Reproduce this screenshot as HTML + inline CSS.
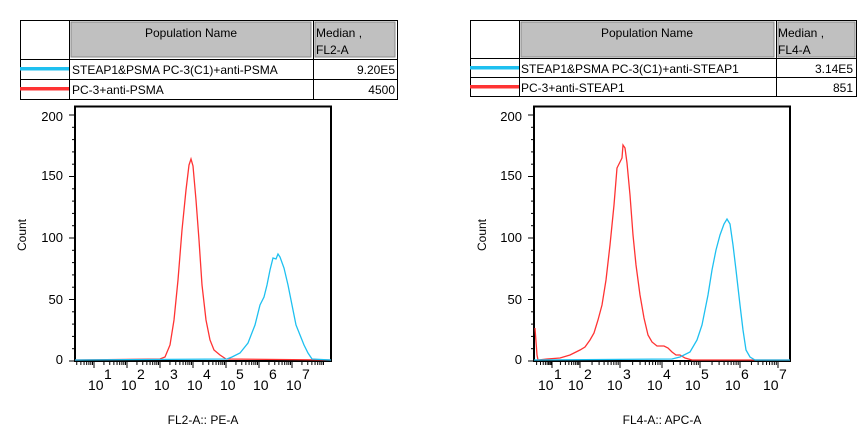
<!DOCTYPE html>
<html><head><meta charset="utf-8"><style>
body{margin:0;background:#fff;width:867px;height:443px;overflow:hidden}
svg{display:block;font-family:"Liberation Sans",Arial,sans-serif}
</style></head><body>
<svg id="s" width="867" height="443" viewBox="0 0 867 443">
<g font-size="12" fill="#000">
<rect x="20.5" y="20.5" width="377" height="79" fill="#fff" stroke="#000"/>
<rect x="71" y="22" width="240" height="35" fill="#c0c0c0" stroke="#888" stroke-width="1"/>
<rect x="315" y="22" width="80" height="35" fill="#c0c0c0" stroke="#888" stroke-width="1"/>
<line x1="69.5" y1="20" x2="69.5" y2="100" stroke="#000"/>
<line x1="313.5" y1="20" x2="313.5" y2="100" stroke="#000"/>
<line x1="20" y1="59.5" x2="398" y2="59.5" stroke="#000"/>
<line x1="20" y1="79.5" x2="398" y2="79.5" stroke="#000"/>
<text x="191" y="37" text-anchor="middle">Population Name</text>
<text x="316" y="37">Median ,</text><text x="316" y="54">FL2-A</text>
<text x="72" y="74">STEAP1&amp;PSMA PC-3(C1)+anti-PSMA</text><text x="395" y="74" text-anchor="end">9.20E5</text>
<text x="72" y="94">PC-3+anti-PSMA</text><text x="395" y="94" text-anchor="end">4500</text>
<rect x="20" y="67" width="49" height="3.5" fill="#1ec0f0"/>
<rect x="20" y="87" width="49" height="3.5" fill="#f33"/>
</g>
<g font-size="12" fill="#000">
<rect x="470.5" y="20.5" width="386" height="76" fill="#fff" stroke="#000"/>
<rect x="521" y="22" width="253" height="35" fill="#c0c0c0" stroke="#888"/>
<rect x="778" y="22" width="77" height="35" fill="#c0c0c0" stroke="#888"/>
<line x1="519.5" y1="20" x2="519.5" y2="97" stroke="#000"/>
<line x1="776.5" y1="20" x2="776.5" y2="97" stroke="#000"/>
<line x1="470" y1="58.5" x2="857" y2="58.5" stroke="#000"/>
<line x1="470" y1="77.5" x2="857" y2="77.5" stroke="#000"/>
<text x="647" y="37" text-anchor="middle">Population Name</text>
<text x="778" y="37">Median ,</text><text x="778" y="54">FL4-A</text>
<text x="521" y="73">STEAP1&amp;PSMA PC-3(C1)+anti-STEAP1</text><text x="853" y="73" text-anchor="end">3.14E5</text>
<text x="521" y="92">PC-3+anti-STEAP1</text><text x="853" y="92" text-anchor="end">851</text>
<rect x="470" y="66" width="49" height="3.5" fill="#1ec0f0"/>
<rect x="470" y="85" width="49" height="3.5" fill="#f33"/>
</g>
<rect x="75" y="106.5" width="256" height="254.5" fill="none" stroke="#000" stroke-width="2"/>
<polyline fill="none" stroke="#f33" stroke-width="1.3" points="75,360 160,359 165,357 170,345 174,320 178,280 182,230 186,190 189,165 191,159 193,166 196,200 199,240 202,285 206,320 210,340 214,350 220,355 226,359 331,360"/>
<polyline fill="none" stroke="#1ec0f0" stroke-width="1.3" points="75,360 227,359 232,357 240,353 248,343 255,325 260,305 264,297 267,285 270,270 273,258 276,259 278,254 280,257 284,268 288,285 292,305 296,325 300,335 304,345 308,353 312,359 331,360"/>
<g font-size="13" text-anchor="end"><text x="63" y="121">200</text><text x="63" y="180">150</text><text x="63" y="242">100</text><text x="63" y="304">50</text><text x="63" y="364">0</text></g>
<text transform="translate(26,235) rotate(-90)" font-size="12" text-anchor="middle">Count</text>
<text x="203" y="424" font-size="12" text-anchor="middle">FL2-A:: PE-A</text>
<rect x="534" y="106.5" width="256" height="254.5" fill="none" stroke="#000" stroke-width="2"/>
<polyline fill="none" stroke="#f33" stroke-width="1.3" points="535,328 537,355 538,360 547,359 560,358 570,355 580,350 585,347 590,340 594,333 598,320 602,305 606,280 610,245 614,205 617,168 620,162 622,158 623,145 625,148 627,163 630,195 633,235 636,265 640,295 644,318 648,335 652,342 657,346 664,346 668,348 672,352 676,355 680,355 685,358 692,360 790,360"/>
<polyline fill="none" stroke="#1ec0f0" stroke-width="1.3" points="534,360 672,359 680,357 690,352 697,340 702,325 705,310 708,295 712,270 716,250 720,235 724,224 727,219 730,224 733,245 736,270 740,305 743,330 746,350 750,357 755,360 790,360"/>
<g font-size="13" text-anchor="end"><text x="522" y="121">200</text><text x="522" y="180">150</text><text x="522" y="242">100</text><text x="522" y="304">50</text><text x="522" y="364">0</text></g>
<text transform="translate(486,235) rotate(-90)" font-size="12" text-anchor="middle">Count</text>
<text x="662" y="424" font-size="12" text-anchor="middle">FL4-A:: APC-A</text>
<g id="ticks" stroke="#000" stroke-width="1"></g>
<g id="labs" font-size="14"></g>
</svg>
<script>
var t=document.getElementById('ticks'),L=document.getElementById('labs'),h='',lh='';
function ln(a,b,c,d){h+='<line x1="'+a+'" y1="'+b+'" x2="'+c+'" y2="'+d+'"/>';}
function yax(x0){for(var v=0;v<=200;v+=10){var y=361-v*1.23;var m=v%50==0;ln(x0-(m?6:3),y,x0,y);}}
yax(75);yax(534);
function xax(maj,lo,hi){
 for(var i=0;i<maj.length-1;i++){var a=maj[i],w=maj[i+1]-a;
  for(var k=1;k<10;k++){var x=a+Math.log10(k)*w;if(x<lo||x>hi)continue;ln(x,362,x,k==1?368:365);}}
}
xax([61,94,127,160,193,226,259,292,325],76,330);
xax([530,552,580,620,662,700,740,778,816],535,789);
for(var i=0;i<7;i++){
 var x=88+i*33;lh+='<text x="'+x+'" y="390">10</text><text x="'+(x+16)+'" y="379">'+(i+1)+'</text>';}
var rx=[538,568,607,647,685,725,763];
for(var i=0;i<7;i++){lh+='<text x="'+rx[i]+'" y="390">10</text><text x="'+(rx[i]+16)+'" y="379">'+(i+1)+'</text>';}
t.innerHTML=h;L.innerHTML=lh;
</script>
</body></html>
